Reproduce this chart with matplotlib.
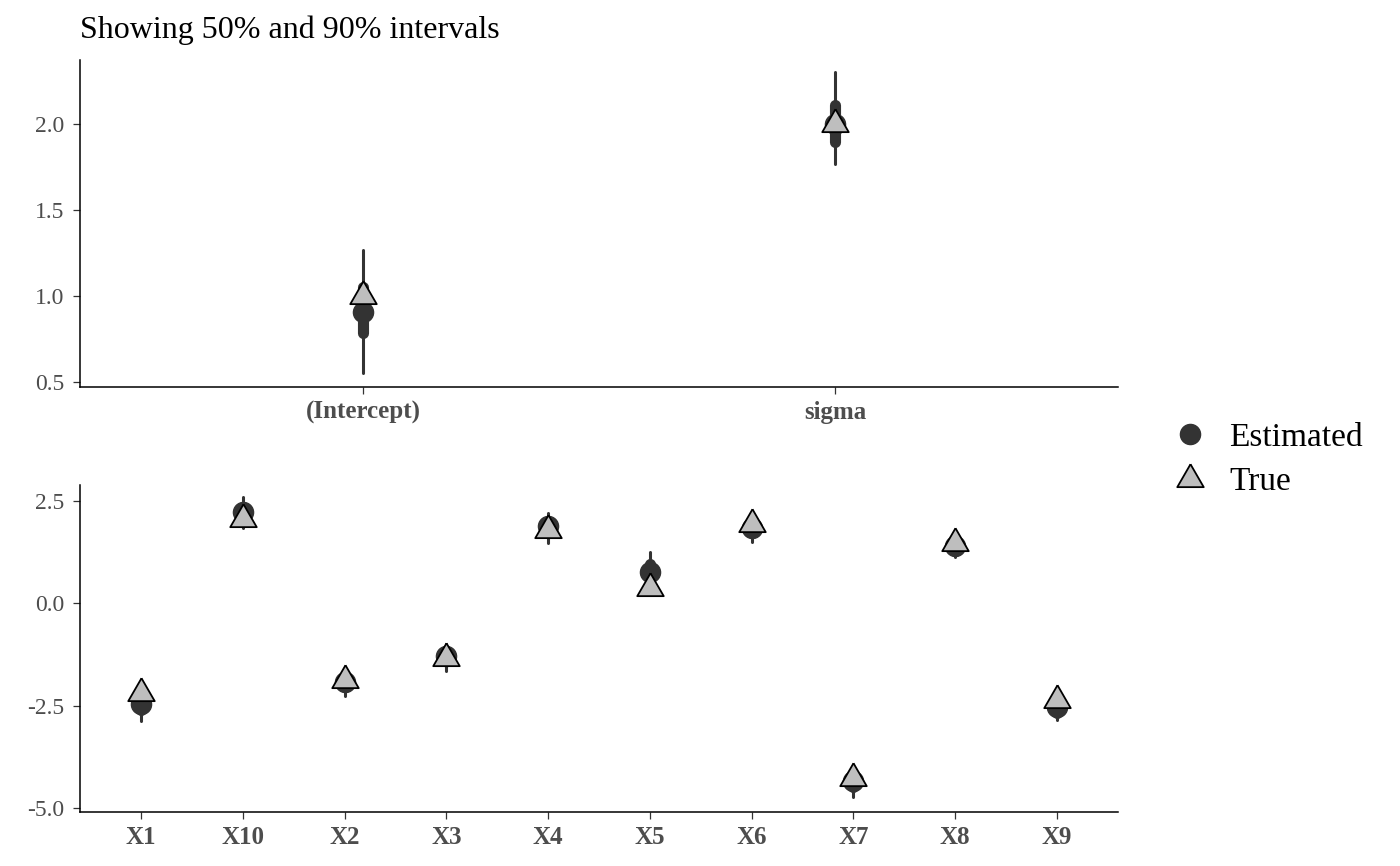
import numpy as np
import matplotlib
matplotlib.use("Agg")
import matplotlib.pyplot as plt
from matplotlib.lines import Line2D

plt.rcParams['font.family'] = ['Liberation Serif', 'DejaVu Serif']

# top panel parameters
top_names = ["(Intercept)", "sigma"]
top_est = [0.91, 2.00]
top_true = [1.00, 2.00]
top_lo90 = [0.55, 1.77]
top_hi90 = [1.27, 2.30]
top_lo50 = [0.785, 1.895]
top_hi50 = [1.05, 2.11]

# bottom panel parameters
bot_names = ["X1", "X10", "X2", "X3", "X4", "X5", "X6", "X7", "X8", "X9"]
bot_est = [-2.46, 2.22, -1.93, -1.29, 1.88, 0.76, 1.83, -4.34, 1.41, -2.54]
bot_true = [-2.20, 2.06, -1.88, -1.34, 1.79, 0.37, 1.93, -4.27, 1.48, -2.36]
bot_lo90 = [-2.88, 1.85, -2.27, -1.66, 1.46, 0.28, 1.49, -4.73, 1.12, -2.85]
bot_hi90 = [-2.05, 2.60, -1.58, -1.00, 2.20, 1.24, 2.17, -3.95, 1.70, -2.20]
bot_lo50 = [-2.62, 2.10, -2.05, -1.42, 1.75, 0.55, 1.72, -4.48, 1.28, -2.68]
bot_hi50 = [-2.30, 2.35, -1.80, -1.17, 2.00, 0.96, 1.95, -4.20, 1.54, -2.40]

dark = '#333333'
light = '#bebebe'
grey_txt = '#4d4d4d'

# triangle with centroid at the origin (like R's pch 24)
tri = [(0, 1), (-0.866, -0.5), (0.866, -0.5), (0, 1)]
circ_ms = 14.5
tri_ms = 22


def draw_panel(ax, names, est, true, lo90, hi90, lo50, hi50, ylim, yticks, ylabels):
    x = np.arange(1, len(names) + 1)
    ax.vlines(x, lo90, hi90, color=dark, lw=2.2, capstyle='round', zorder=2)
    ax.vlines(x, lo50, hi50, color=dark, lw=8, capstyle='round', zorder=3)
    ax.plot(x, est, 'o', ms=circ_ms, color=dark, mec=dark, zorder=4)
    ax.plot(x, true, marker=tri, ls='none', ms=tri_ms, mfc=light, mec='black',
            mew=1.3, zorder=5)
    ax.set_xlim(0.4, len(names) + 0.6)
    ax.set_ylim(*ylim)
    ax.set_xticks(x)
    ax.set_xticklabels(names, fontweight='bold', color=grey_txt, fontsize=18)
    ax.set_yticks(yticks)
    ax.set_yticklabels(ylabels, color=grey_txt, fontsize=17)
    for s in ['top', 'right']:
        ax.spines[s].set_visible(False)
    for s in ['left', 'bottom']:
        ax.spines[s].set_linewidth(1.1)
        ax.spines[s].set_color('black')
    ax.tick_params(axis='x', length=5, width=0.9, color=dark, pad=5)
    ax.tick_params(axis='y', length=5, width=0.9, color=dark, pad=6.5)


fig = plt.figure(figsize=(14, 8.66), dpi=100)
ax1 = fig.add_axes([0.0571, 0.5531, 0.7415, 0.3776])
ax2 = fig.add_axes([0.0571, 0.0624, 0.7415, 0.3776])

draw_panel(ax1, top_names, top_est, top_true, top_lo90, top_hi90, top_lo50, top_hi50,
           (0.471, 2.372), [0.5, 1.0, 1.5, 2.0], ["0.5", "1.0", "1.5", "2.0"])
draw_panel(ax2, bot_names, bot_est, bot_true, bot_lo90, bot_hi90, bot_lo50, bot_hi50,
           (-5.10, 2.89), [-5.0, -2.5, 0.0, 2.5], ["-5.0", "-2.5", "0.0", "2.5"])

fig.text(80 / 1400, 1 - 30 / 866, "Showing 50% and 90% intervals", fontsize=23,
         va='center', ha='left', color='black')

handles = [
    Line2D([], [], marker='o', ls='none', ms=circ_ms, color=dark),
    Line2D([], [], marker=tri, ls='none', ms=tri_ms, mfc=light, mec='black', mew=1.3),
]
fig.legend(handles, ["Estimated", "True"], loc='center left',
           bbox_to_anchor=(1135 / 1400, 1 - 460 / 866), frameon=False, fontsize=24,
           handletextpad=0.42, labelspacing=0.42, handlelength=1.5)

fig.savefig("out.png", dpi=100)
